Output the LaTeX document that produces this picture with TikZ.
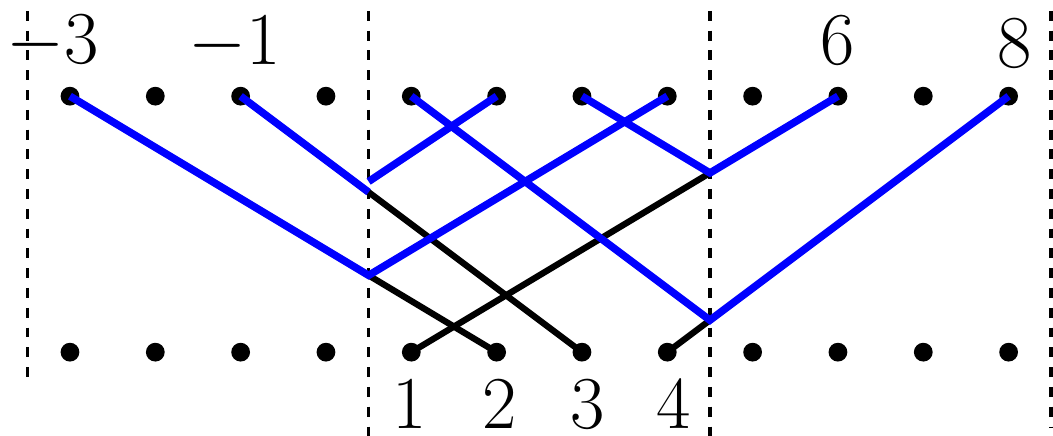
\documentclass[tikz,border=0pt]{standalone}
\usepackage{amsmath,amssymb}
\usepackage{tikz}

\begin{document}
\begin{tikzpicture}[
        font=\fontsize{25.9}{31}\selectfont,
        dot/.style={circle, fill, inner sep=0pt, minimum size=2.2mm},
        sep/.style={dash pattern=on 3.3pt off 3.3pt, line width=1.2pt},
        blk/.style={line width=2.1pt, black},
        blu/.style={line width=2.5pt, blue},
        num/.style={anchor=base, inner sep=0pt}
      ]
        \useasboundingbox (-0.82,-0.973) rectangle (11.52,4.127);
        % separators
        \draw[sep] (-0.5,4) -- (-0.5,-0.36);
        \draw[sep] (3.5,4)  -- (3.5,-1);
        \draw[sep] (7.5,4)  -- (7.5,-1);
        \draw[sep] (11.5,4) -- (11.5,-0.88);
        % reflection points
        \coordinate (k1) at (3.5,0.9);
        \coordinate (k2) at (3.5,1.875);
        \coordinate (k2b) at (3.5,2);
        \coordinate (k3) at (7.5,2.1);
        \coordinate (k4) at (7.5,0.375);
        % the two rows
        \foreach \i in {0,...,11} {
          \node[dot] (t\i) at (\i,3) {};
          \node[dot] (b\i) at (\i,0) {};
        }
        \draw[blk] (t0.center) -- (b5.center);
        \draw[blk] (t2.center) -- (b6.center);
        \draw[blk] (k3) -- (b4.center);
        \draw[blk] (b7.center) -- (t11.center);
        \draw[blu] (t0.center) -- (k1) -- (t7.center);
        \draw[blu] (t2.center) -- (k2);
        \draw[blu] (k2b) -- (t5.center);
        \draw[blu] (t6.center) -- (k3) -- (t9.center);
        \draw[blu] (t4.center) -- (k4) -- (t11.center);
        % labels
        \node[num] (lm3) at (-0.2,3.38) {$-3$};
        \node[num] (lm1) at (1.93,3.37) {$-1$};
        \node[num] (l6)  at (9.0,3.37)  {$6$};
        \node[num] (l8)  at (11.07,3.34) {$8$};
        \node[num] (l1) at (3.98,-0.89) {$1$};
        \node[num] (l2) at (5.04,-0.89) {$2$};
        \node[num] (l3) at (6.07,-0.89) {$3$};
        \node[num] (l4) at (7.07,-0.89) {$4$};
      \end{tikzpicture}
\end{document}
